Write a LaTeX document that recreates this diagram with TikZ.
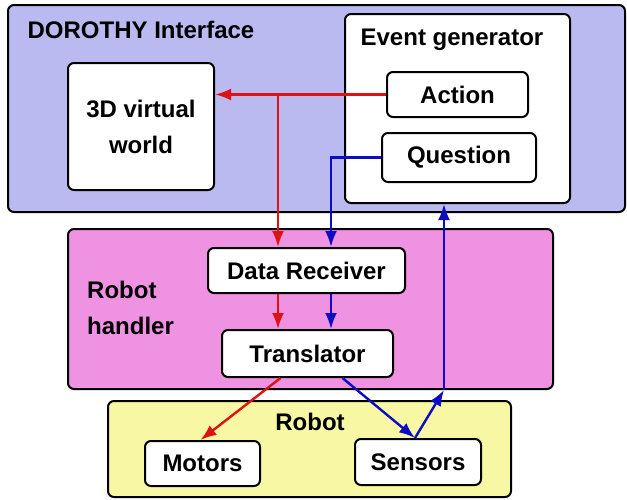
\documentclass[tikz,border=0pt]{standalone}
\usepackage{fontspec}
\setmainfont{Liberation Sans}
\usetikzlibrary{arrows.meta}
\definecolor{dorothyblue}{RGB}{186,186,240}
\definecolor{handlerpink}{RGB}{240,146,226}
\definecolor{robotyellow}{RGB}{248,248,164}
\definecolor{redline}{RGB}{222,18,18}
\definecolor{blueline}{RGB}{12,12,196}
\tikzstyle{layer}=[draw, line width=2pt, rounded corners=6pt, inner sep=0pt]
\tikzstyle{block}=[draw, fill=white, line width=2pt, rounded corners=6pt, inner sep=0pt, align=center, font=\fontsize{24}{36}\selectfont\bfseries]
\tikzstyle{caption}=[inner sep=0pt, font=\fontsize{24}{36}\selectfont\bfseries]
\tikzstyle{link}=[->, line width=2.4pt]

\begin{document}
\begin{tikzpicture}[x=1pt, y=-1pt, >={Latex[length=16pt, width=12pt]}]
                    \useasboundingbox (0,0) rectangle (627,499);
                    \node[layer, fill=dorothyblue, minimum width=617, minimum height=207] (dorothy) at (316.5, 108.5) {};
                    \node[caption] (dorothytxt) at (141, 30) {DOROTHY Interface};
                    \node[block, minimum width=146, minimum height=127] (world) at (141, 126.5) {3D virtual\\world};
                    \node[block, minimum width=225, minimum height=189] (evgen) at (457.5, 108.5) {};
                    \node[caption] (evgentxt) at (452, 40) {Event generator};
                    \node[block, minimum width=141, minimum height=45] (action) at (457.5, 94.5) {Action};
                    \node[block, minimum width=154, minimum height=49] (question) at (459, 157.5) {Question};

                    \node[layer, fill=handlerpink, minimum width=485, minimum height=160] (handler) at (310.5, 309) {};
                    \node[caption, anchor=west, align=left] (handlertxt) at (87, 308) {Robot\\handler};
                    \node[block, minimum width=197, minimum height=45] (receiver) at (306.5, 270.5) {Data Receiver};
                    \node[block, minimum width=171, minimum height=47] (translator) at (307.5, 353.5) {Translator};

                    \node[layer, fill=robotyellow, minimum width=403, minimum height=96] (robot) at (309.5, 449) {};
                    \node[caption] (robottxt) at (310, 422) {Robot};
                    \node[block, minimum width=115, minimum height=45] (motors) at (202.5, 463.5) {Motors};
                    \node[block, minimum width=126, minimum height=46] (sensors) at (418, 462) {Sensors};

                    \coordinate (rsplit) at (278, 94.5);
                    \coordinate (qdown) at (331, 157.5);
                    \coordinate (bturn) at (444, 390);

                    \draw[link, redline]  (action.west)--(action.west -| world.east);
                    \draw[link, redline]  (rsplit)--(rsplit |- receiver.north);
                    \draw[link, blueline] (question.west)-|(qdown |- receiver.north);
                    \draw[link, redline]  (rsplit |- receiver.south)--(rsplit |- translator.north);
                    \draw[link, blueline] (qdown |- receiver.south)--(qdown |- translator.north);
                    \draw[link, redline]  ([xshift=-27pt]translator.south)--([xshift=-2pt]motors.north);
                    \draw[link, blueline] ([xshift=35pt]translator.south)--([xshift=-3pt]sensors.north);
                    \draw[link, blueline] ([xshift=-3pt]sensors.north)--(bturn);
                    \draw[link, blueline] (bturn)--(bturn |- evgen.south);
                \end{tikzpicture}
\end{document}
